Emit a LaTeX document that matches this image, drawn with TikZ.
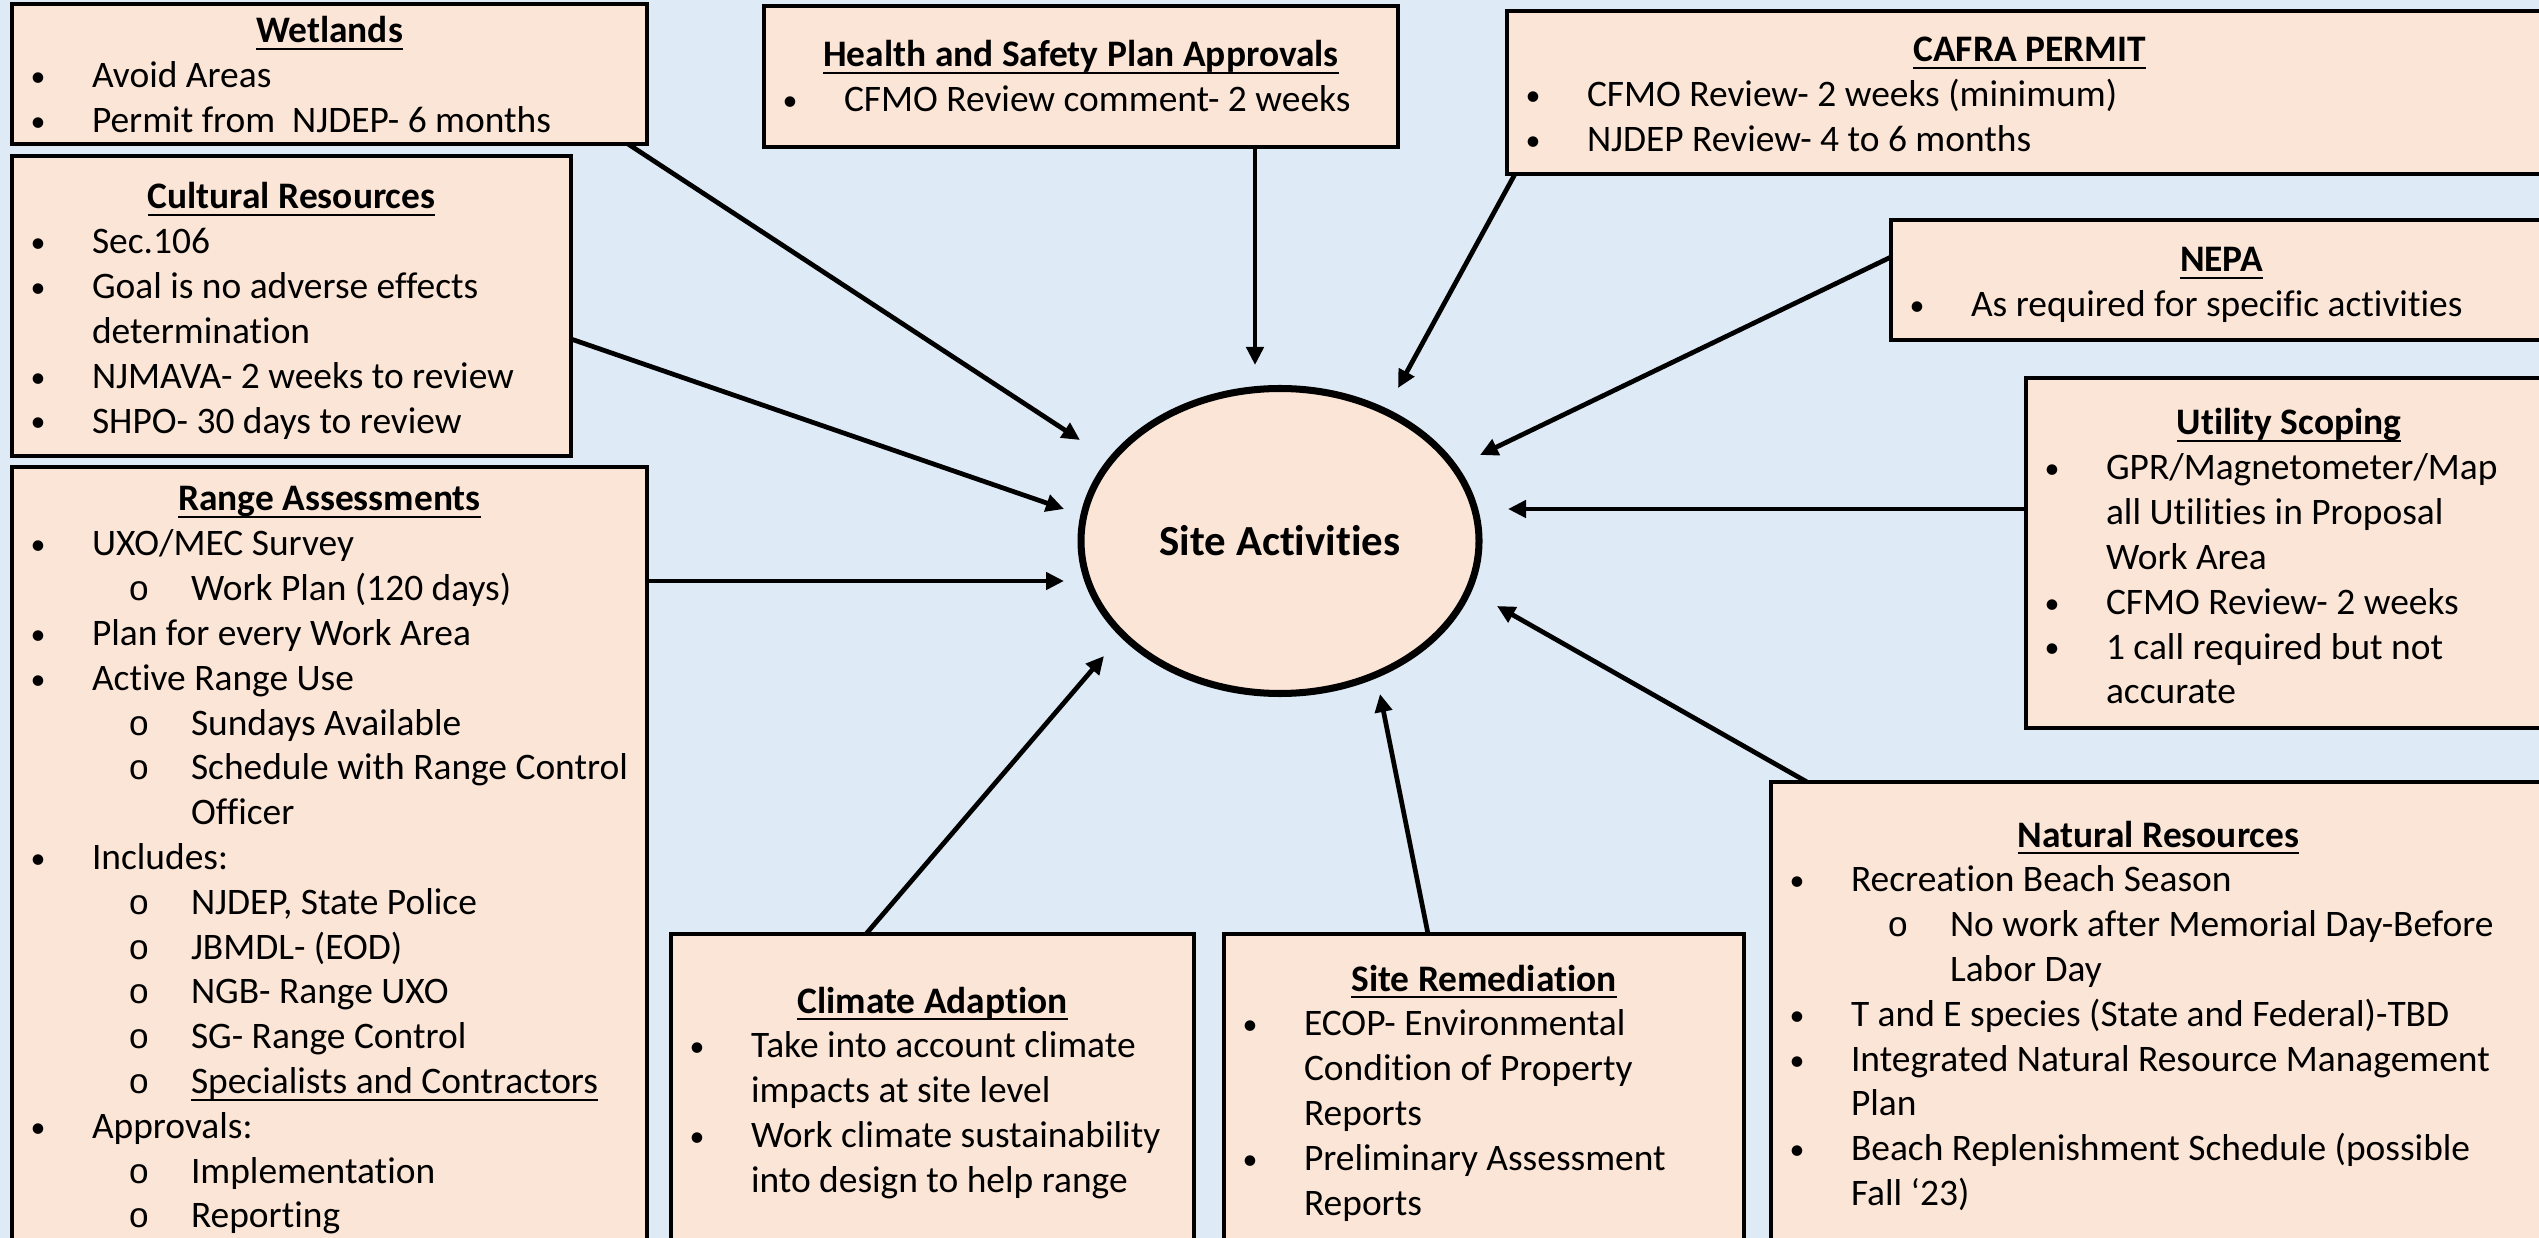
\documentclass[tikz,border=0pt]{standalone}
\usepackage{fontspec}
\setmainfont{Carlito}[Ligatures={NoCommon,NoRequired,NoContextual}]
\setmonofont{Liberation Mono}
\usetikzlibrary{arrows.meta,fit,shapes.geometric}
\definecolor{bgblue}{RGB}{222,235,247}
\definecolor{peach}{RGB}{251,229,214}

\newcommand\myul[1]{\setbox0\hbox{#1}\rlap{\rule[-2.1pt]{\wd0}{0.65pt}}\box0}
\newcommand\Ti[1]{\hbox to\linewidth{\hss\myul{\bfseries #1}\hss}}
\newcommand\bulletmark{\raisebox{0.3pt}{\scalebox{0.8}{•}}}
\newcommand\Bu[1]{\hbox{\hspace*{2.6mm}\makebox[0pt][c]{\bulletmark}\hspace*{5.4mm}#1}}
\newcommand\Co[1]{\hbox{\hspace*{8.0mm}#1}}
\newcommand\Su[1]{\hbox{\hspace*{12.7mm}\makebox[0pt][c]{\ttfamily\fontsize{10pt}{12pt}\selectfont o}\hspace*{5.2mm}#1}}
\newcommand\Sc[1]{\hbox{\hspace*{17.9mm}#1}}
\newenvironment{boxtext}[1]{\begin{minipage}[t]{#1mm}\fontsize{10.65pt}{12.75pt}\selectfont}{\end{minipage}}

\tikzset{
  box/.style={draw=black, line width=1.1pt, fill=peach, inner sep=0pt, outer sep=0pt},
  txt/.style={anchor=base west, inner sep=0pt, outer sep=0pt},
  conn/.style={line width=1.35pt, -{Triangle[length=1.8mm,width=1.7mm]}},
}

\begin{document}
\begin{tikzpicture}[x=0.1mm, y=-0.1mm]
\useasboundingbox (0,0) rectangle (2539,1238);
\clip (0,0) rectangle (2539,1238);
\fill[bgblue] (0,0) rectangle (2539,1238);

% boxes
\node[box, fit={(12,4) (647,144)}] (wet) {};
\node[box, fit={(764,6) (1398,147)}] (hsp) {};
\node[box, fit={(1507,11) (2552,174)}] (cafra) {};
\node[box, fit={(12,156) (571,456)}] (cult) {};
\node[box, fit={(1891,220) (2552,340)}] (nepa) {};
\node[box, fit={(2026,378) (2552,728)}] (util) {};
\node[box, fit={(12,467) (647,1250)}] (range) {};
\node[box, fit={(671,934) (1194,1250)}] (clim) {};
\node[box, fit={(1224,934) (1744,1250)}] (srem) {};
\node[box, fit={(1771,782) (2552,1250)}] (nat) {};

% texts
\node[txt] (wetT) at (12,43) {\begin{boxtext}{63.5}
\Ti{Wetlands}
\Bu{Avoid Areas}
\Bu{Permit from\ \ NJDEP- 6 months}
\end{boxtext}};

\node[txt] (hspT) at (764,67) {\begin{boxtext}{63.4}
\Ti{Health and Safety Plan Approvals}
\Bu{CFMO Review comment- 2 weeks}
\end{boxtext}};

\node[txt] (cafraT) at (1507,62) {\begin{boxtext}{104.5}
\Ti{CAFRA PERMIT}
\Bu{CFMO Review- 2 weeks (minimum)}
\Bu{NJDEP Review- 4 to 6 months}
\end{boxtext}};

\node[txt] (cultT) at (12,209) {\begin{boxtext}{55.9}
\Ti{Cultural Resources}
\Bu{Sec.106}
\Bu{Goal is no adverse effects}
\Co{determination}
\Bu{NJMAVA- 2 weeks to review}
\Bu{SHPO- 30 days to review}
\end{boxtext}};

\node[txt] (nepaT) at (1891,272) {\begin{boxtext}{66.1}
\Ti{NEPA}
\Bu{As required for specific activities}
\end{boxtext}};

\node[txt] (utilT) at (2026,435) {\begin{boxtext}{52.6}
\Ti{Utility Scoping}
\Bu{GPR/Magnetometer/Map}
\Co{all Utilities in Proposal}
\Co{Work Area}
\Bu{CFMO Review- 2 weeks}
\Bu{1 call required but not}
\Co{accurate}
\end{boxtext}};

\node[txt] (rangeT) at (12,511) {\begin{boxtext}{63.5}
\Ti{Range Assessments}
\Bu{UXO/MEC Survey}
\Su{Work Plan (120 days)}
\Bu{Plan for every Work Area}
\Bu{Active Range Use}
\Su{Sundays Available}
\Su{Schedule with Range Control}
\Sc{Officer}
\Bu{Includes:}
\Su{NJDEP, State Police}
\Su{JBMDL- (EOD)}
\Su{NGB- Range UXO}
\Su{SG- Range Control}
\Su{\myul{Specialists and Contractors}}
\Bu{Approvals:}
\Su{Implementation}
\Su{Reporting}
\end{boxtext}};

\node[txt] (climT) at (671,1013) {\begin{boxtext}{52.3}
\Ti{Climate Adaption}
\Bu{Take into account climate}
\Co{impacts at site level}
\Bu{Work climate sustainability}
\Co{into design to help range}
\end{boxtext}};

\node[txt] (sremT) at (1224,991) {\begin{boxtext}{52.0}
\Ti{Site Remediation}
\Bu{ECOP- Environmental}
\Co{Condition of Property}
\Co{Reports}
\Bu{Preliminary Assessment}
\Co{Reports}
\end{boxtext}};

\node[txt] (natT) at (1771,847) {\begin{boxtext}{77.5}
\Ti{Natural Resources}
\Bu{Recreation Beach Season}
\Su{No work after Memorial Day-Before}
\Sc{Labor Day}
\Bu{T and E species (State and Federal)-TBD}
\Bu{Integrated Natural Resource Management}
\Co{Plan}
\Bu{Beach Replenishment Schedule (possible}
\Co{Fall ‘23)}
\end{boxtext}};

% central ellipse
\node[ellipse, draw=black, line width=2pt, fill=peach, minimum width=39.8mm, minimum height=30.5mm, inner sep=0pt,
      font=\fontsize{12.2pt}{15pt}\selectfont\bfseries] (site) at (1280,541) {Site Activities};

% connector end points
\coordinate (wetS) at (628,144);   \coordinate (wetE) at (1080,440);
\coordinate (cultS) at (571,339);  \coordinate (cultE) at (1064,509);
\coordinate (rangeS) at (647,581); \coordinate (rangeE) at (1064,581);
\coordinate (hspS) at (1255,147);  \coordinate (hspE) at (1255,365);
\coordinate (cafraS) at (1515,174); \coordinate (cafraE) at (1398,388);
\coordinate (nepaS) at (1891,257); \coordinate (nepaE) at (1480,455);
\coordinate (utilS) at (2026,509); \coordinate (utilE) at (1508,509);
\coordinate (natS) at (1807,782);  \coordinate (natE) at (1497,606);
\coordinate (sremS) at (1428,934); \coordinate (sremE) at (1380,694);
\coordinate (climS) at (866,934);  \coordinate (climE) at (1104,656);

\draw[conn] (wetS) -- (wetE);
\draw[conn] (cultS) -- (cultE);
\draw[conn] (rangeS) -- (rangeE);
\draw[conn] (hspS) -- (hspE);
\draw[conn] (cafraS) -- (cafraE);
\draw[conn] (nepaS) -- (nepaE);
\draw[conn] (utilS) -- (utilE);
\draw[conn] (natS) -- (natE);
\draw[conn] (sremS) -- (sremE);
\draw[conn] (climS) -- (climE);
\end{tikzpicture}
\end{document}
